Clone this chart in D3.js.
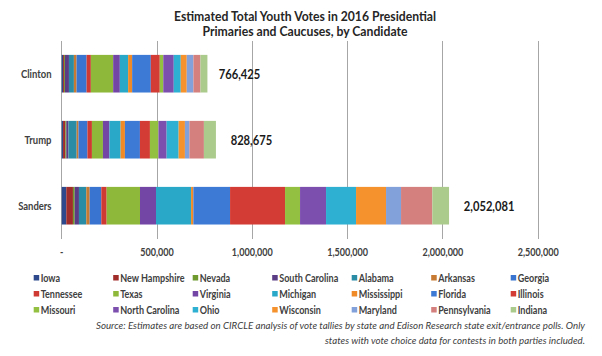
<!DOCTYPE html>
<html><head><meta charset="utf-8">
<script src="https://cdn.jsdelivr.net/npm/d3@7"></script>
<style>
html,body{margin:0;padding:0;background:#fff;}
svg{display:block;}
text{font-family:"Lato","Open Sans",sans-serif;}
</style></head>
<body><svg id="c" width="602" height="356"></svg>
<script>
const categories = ["Clinton", "Trump", "Sanders"];
const states = ["Iowa","New Hampshire","Nevada","South Carolina","Alabama","Arkansas","Georgia",
  "Tennessee","Texas","Virginia","Michigan","Mississippi","Florida","Illinois",
  "Missouri","North Carolina","Ohio","Wisconsin","Maryland","Pennsylvania","Indiana"];
const clintonVotes = [7000,5000,5000,21000,26000,14000,52500,22500,117000,35000,43500,21000,98000,47000,18400,55000,36700,31500,35000,36700,36700];
const trumpVotes   = [7000,12000,5000,11500,43000,9500,47000,23600,57700,34000,58800,22600,78700,52500,44600,43000,63000,33000,23600,76000,63000];
const sandersVotes = [24000,35000,9000,22500,38500,17800,61000,28000,175000,84000,184000,12000,192500,288500,78700,136400,157400,157400,78700,164200,87600];
const totals = [766425, 828675, 2052081];
const totalLabels = ["766,425", "828,675", "2,052,081"];
const tickValues = [0, 500000, 1000000, 1500000, 2000000, 2500000];
const tickLabels = ["-", "500,000", "1,000,000", "1,500,000", "2,000,000", "2,500,000"];
const colors = ["#2E4A8C","#A12D2A","#6E9A2E","#5A3D85","#2B8CA6","#C77A32","#3874D0",
  "#CF3A32","#8DB83A","#7346A6","#2AA8C8","#F08A26","#3C7AD6","#D23C34",
  "#93C040","#7C4EAE","#2DB0D2","#F5922E","#82A0DA","#D4807F","#ABCB8C"];
const titleLines = ["Estimated Total Youth Votes in 2016 Presidential", "Primaries and Caucuses, by Candidate"];
const sourceLines = ["Source:  Estimates are based on CIRCLE analysis of vote tallies by state and Edison Research state exit/entrance polls.  Only",
  "states with vote choice data for contests in both parties included."];

const svg = d3.select("#c");
const seriesValues = [clintonVotes, trumpVotes, sandersVotes];
const table = categories.map((c, i) => {
  const row = {cat: c};
  states.forEach((s, j) => row[s] = seriesValues[i][j]);
  return row;
});

const x = d3.scaleLinear().domain([0, 2500000]).range([61.7, 538.2]);
const y = d3.scaleBand().domain(categories).range([40.7, 238.7]).paddingInner(0).paddingOuter(0);
const color = d3.scaleOrdinal().domain(states).range(colors);

function fit(sel, w) {
  sel.each(function() {
    d3.select(this).attr("textLength", w).attr("lengthAdjust", "spacingAndGlyphs");
  });
}
function condense(sel, k) {
  sel.each(function() {
    const n = this.getComputedTextLength();
    d3.select(this).attr("textLength", n * k).attr("lengthAdjust", "spacingAndGlyphs");
  });
}
const K = 0.86;

// title
const tW = [262, 205];
titleLines.forEach((t, i) => {
  svg.append("text").attr("x", 305).attr("y", 20.5 + i * 15.5).attr("text-anchor", "middle")
    .attr("font-size", 13.5).attr("font-weight", "bold").attr("fill", "#262626").text(t)
    .call(fit, tW[i]);
});

// gridlines
svg.append("g").selectAll("line").data(tickValues).join("line")
  .attr("x1", d => x(d)).attr("x2", d => x(d)).attr("y1", 40.7).attr("y2", 238.7)
  .attr("stroke", "#A6A6A6").attr("stroke-width", 1).attr("shape-rendering", "crispEdges");

// tick labels
svg.append("g").selectAll("text").data(tickValues).join("text")
  .attr("x", d => x(d)).attr("y", 256).attr("text-anchor", "middle")
  .attr("font-size", 10.5).attr("font-weight", "bold").attr("fill", "#404040")
  .text((d, i) => tickLabels[i]).call(condense, K);

// bars
const stack = d3.stack().keys(states)(table);
const barH = y.bandwidth() * 0.57;
const off = (y.bandwidth() - barH) / 2;
svg.append("g").selectAll("g").data(stack).join("g").attr("fill", d => color(d.key))
  .selectAll("rect").data(d => d).join("rect")
  .attr("x", d => x(d[0])).attr("width", d => x(d[1]) - x(d[0]))
  .attr("y", d => y(d.data.cat) + off).attr("height", barH);

// category labels
svg.append("g").selectAll("text").data(categories).join("text")
  .attr("x", 51.5).attr("y", d => y(d) + y.bandwidth() / 2 + 4).attr("text-anchor", "end")
  .attr("font-size", 11).attr("font-weight", "bold").attr("fill", "#404040").text(d => d)
  .call(condense, K);

// total labels
svg.append("g").selectAll("text").data(categories).join("text")
  .attr("x", (d, i) => x(totals[i]) + 11).attr("y", d => y(d) + y.bandwidth() / 2 + 5)
  .attr("font-size", 13).attr("font-weight", "bold").attr("fill", "#1a1a1a").text((d, i) => totalLabels[i])
  .call(condense, K);

// legend
const lg = svg.append("g").selectAll("g").data(states).join("g")
  .attr("transform", (d, i) => `translate(${33.7 + (i % 7) * 79.5},${278 + Math.floor(i / 7) * 16})`);
lg.append("rect").attr("x", 0).attr("y", -3).attr("width", 5.5).attr("height", 5.5).attr("fill", d => color(d));
lg.append("text").attr("x", 7).attr("y", 3.8).attr("font-size", 10.5).attr("font-weight", "bold")
  .attr("fill", "#404040").text(d => d).call(condense, K);

// source
const sW = [489, 260];
sourceLines.forEach((t, i) => {
  svg.append("text").attr("x", 585).attr("y", 328.5 + i * 15).attr("text-anchor", "end")
    .attr("font-size", 10).attr("font-style", "italic").attr("fill", "#404040").text(t)
    .call(fit, sW[i]);
});
</script></body></html>
